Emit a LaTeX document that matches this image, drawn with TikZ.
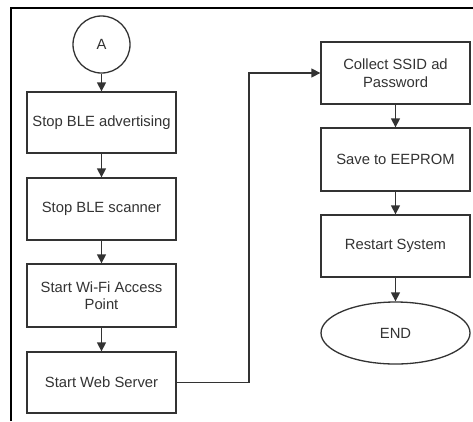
\documentclass[tikz,border=0pt]{standalone}
\usepackage{fontspec}
\setmainfont{Liberation Sans}
\usetikzlibrary{shapes.geometric,arrows.meta}
\definecolor{ink}{HTML}{333333}
\begin{document}
\begin{tikzpicture}[x=1pt,y=-1pt,
  box/.style={draw=ink,line width=1.3pt,minimum width=149pt,minimum height=62pt,inner sep=2pt,align=center,text=ink,font=\fontsize{14.8}{17.5}\selectfont},
  endnode/.style={box,ellipse},
  conn/.style={draw=ink,line width=1.3pt,-{Triangle[length=9pt,width=9pt]}}]
\useasboundingbox (0,0) rectangle (473,421);
\fill[white] (0,0) rectangle (473,421);
\draw[line width=2pt,black] (11,421) -- (11,8) -- (473,8);
\node[draw=ink,line width=1.3pt,circle,minimum size=57pt,inner sep=0pt,text=ink,font=\fontsize{14.8}{17.5}\selectfont] (a) at (101.5,44.5) {A};
\node[box,minimum height=61pt] (b1) at (101.5,122.5) {Stop BLE advertising};
\node[box] (b2) at (101.5,209) {Stop BLE scanner};
\node[box,minimum height=63pt] (b3) at (101.5,295.5) {Start Wi-Fi Access\\Point};
\node[box,minimum height=61pt] (b4) at (101.5,382.5) {Start Web Server};
\node[box] (b5) at (395.5,73) {Collect SSID ad\\Password};
\node[box,minimum height=63pt] (b6) at (395.5,159.5) {Save to EEPROM};
\node[box] (b7) at (395.5,246) {Restart System};
\node[endnode,minimum width=149pt,minimum height=62pt,inner sep=0pt] (e) at (395.5,333) {END};
\draw[conn] (a) -- (b1);
\draw[conn] (b1) -- (b2);
\draw[conn] (b2) -- (b3);
\draw[conn] (b3) -- (b4);
\draw[conn] (b4.east) -- (249,382.5) |- (b5.west);
\draw[conn] (b5) -- (b6);
\draw[conn] (b6) -- (b7);
\draw[conn] (b7) -- (e);
\end{tikzpicture}
\end{document}
